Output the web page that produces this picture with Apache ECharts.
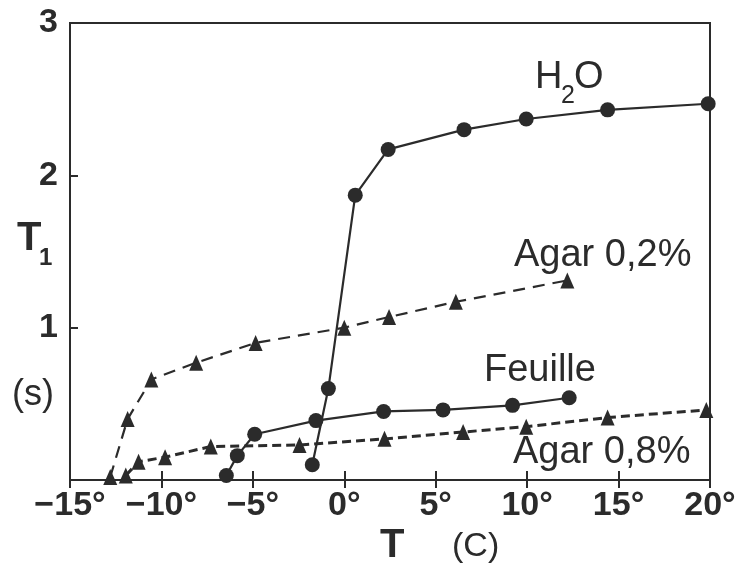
<!DOCTYPE html>
<html>
<head>
<meta charset="utf-8">
<script src="https://cdn.jsdelivr.net/npm/echarts@6/dist/echarts.min.js"></script>
<style>
    html, body { margin: 0; padding: 0; background: #fff; }
    #chart { width: 744px; height: 567px; }
</style>
</head>
<body>
<div id="chart"></div>
<script>
// T (C), T1 (s)
const h2o = [[-1.75, 0.10], [-0.87, 0.60], [0.6, 1.87], [2.4, 2.17], [6.55, 2.30], [9.95, 2.37], [14.4, 2.43], [19.9, 2.47]];
const feuille = [[-6.45, 0.03], [-5.85, 0.16], [-4.9, 0.30], [-1.55, 0.39], [2.15, 0.45], [5.4, 0.46], [9.2, 0.49], [12.3, 0.54]];
const agar02 = [[-12.8, 0.02], [-11.85, 0.40], [-10.55, 0.66], [-8.1, 0.77], [-4.85, 0.90], [0, 1.00], [2.45, 1.07], [6.1, 1.17], [12.2, 1.31]];
const agar08 = [[-11.95, 0.03], [-11.25, 0.12], [-9.8, 0.15], [-7.3, 0.22], [-2.45, 0.23], [2.2, 0.27], [6.5, 0.315], [9.95, 0.35], [14.4, 0.41], [19.8, 0.46]];

const xTicks = [-15, 20, 5];
const yTicks = [0, 3, 1];

const ink = '#2b2b2b';
const fam = '"Liberation Sans", Arial, sans-serif';
const noteFont = '38px ' + fam;

const chart = echarts.init(document.getElementById('chart'));

function deg(v) {
    return (v < 0 ? '\u2212' : '') + Math.abs(v) + '\u00b0';
}

function note(text, x, y, font) {
    return {
        type: 'text',
        x: x,
        y: y,
        style: {
            text: text,
            font: font || noteFont,
            fill: ink,
            textAlign: 'left',
            textVerticalAlign: 'middle'
        }
    };
}

const option = {
    animation: false,
    backgroundColor: '#fff',
    grid: {
        left: 70,
        right: 34,
        top: 23,
        bottom: 87,
        show: true,
        borderColor: ink,
        borderWidth: 2
    },
    xAxis: [
        {
            type: 'value',
            min: xTicks[0],
            max: xTicks[1],
            interval: xTicks[2],
            position: 'bottom',
            axisLine: { onZero: false, lineStyle: { color: ink, width: 2 } },
            axisTick: { inside: true, length: 9, lineStyle: { color: ink, width: 2 } },
            splitLine: { show: false },
            axisLabel: {
                color: ink,
                fontSize: 34,
                fontWeight: 'bold',
                fontFamily: fam,
                margin: 9,
                formatter: deg
            }
        },
        {
            type: 'value',
            min: xTicks[0],
            max: xTicks[1],
            interval: xTicks[2],
            position: 'bottom',
            axisLine: { show: false, onZero: false },
            axisTick: { inside: false, length: 8, lineStyle: { color: ink, width: 2 } },
            splitLine: { show: false },
            axisLabel: { show: false }
        }
    ],
    yAxis: [
        {
            type: 'value',
            min: yTicks[0],
            max: yTicks[1],
            interval: yTicks[2],
            position: 'left',
            axisLine: { show: true, onZero: false, lineStyle: { color: ink, width: 2 } },
            axisTick: { show: true, inside: true, length: 8, lineStyle: { color: ink, width: 2 } },
            splitLine: { show: false },
            axisLabel: {
                color: ink,
                fontSize: 34,
                fontWeight: 'bold',
                fontFamily: fam,
                margin: 12,
                showMinLabel: false
            }
        }
    ],
    series: [
        {
            name: 'H2O',
            type: 'line',
            data: h2o,
            symbol: 'circle',
            symbolSize: 15,
            lineStyle: { color: ink, width: 2.2 },
            itemStyle: { color: ink }
        },
        {
            name: 'Feuille',
            type: 'line',
            data: feuille,
            symbol: 'circle',
            symbolSize: 15,
            lineStyle: { color: ink, width: 2.2 },
            itemStyle: { color: ink }
        },
        {
            name: 'Agar 0,2%',
            type: 'line',
            data: agar02,
            symbol: 'triangle',
            symbolSize: [14, 16],
            lineStyle: { color: ink, width: 2.2, type: [12, 8] },
            itemStyle: { color: ink }
        },
        {
            name: 'Agar 0,8%',
            type: 'line',
            data: agar08,
            symbol: 'triangle',
            symbolSize: [14, 16],
            lineStyle: { color: ink, width: 3, type: [9, 5] },
            itemStyle: { color: ink }
        }
    ],
    graphic: [
        note('H', 535, 78),
        note('2', 561, 96, '25px ' + fam),
        note('O', 574, 78),
        note('Agar 0,2%', 514, 256),
        note('Feuille', 484, 371),
        note('Agar 0,8%', 513, 453),
        note('T', 17, 239, 'bold 40px ' + fam),
        note('1', 39, 258, 'bold 24px ' + fam),
        note('(s)', 12, 395, '36px ' + fam),
        note('T', 380, 546, 'bold 40px ' + fam),
        note('(C)', 452, 547, '34px ' + fam)
    ]
};

chart.setOption(option);
</script>
</body>
</html>
